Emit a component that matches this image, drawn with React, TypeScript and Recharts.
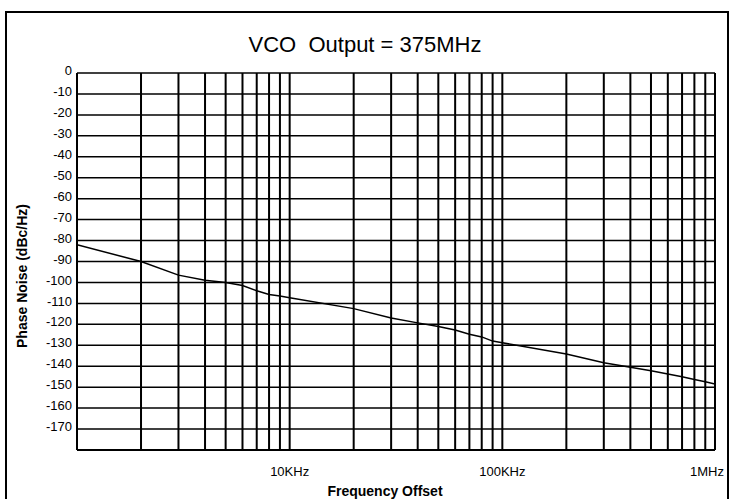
import { LineChart, Line, XAxis, YAxis, CartesianGrid } from 'recharts'

const FONT = "Arial, 'Liberation Sans', sans-serif"

// offset frequency (Hz) - also the log grid lines
const FREQS = [
  1000, 2000, 3000, 4000, 5000, 6000, 7000, 8000, 9000,
  10000, 20000, 30000, 40000, 50000, 60000, 70000, 80000, 90000,
  100000, 200000, 300000, 400000, 500000, 600000, 700000, 800000, 900000,
  1000000,
]

// phase noise (dBc/Hz) read at each frequency above
const NOISE = [
  -82, -90, -96.5, -99, -100, -101.5, -104, -105.8, -106.5,
  -107.3, -112.5, -117, -119.3, -121, -122.7, -124.7, -126, -128,
  -128.8, -134.2, -138.3, -140.5, -142.2, -143.7, -145, -146.3, -147.4,
  -148.5,
]

const X_LABELS: Record<number, string> = {
  10000: '10KHz',
  100000: '100KHz',
  1000000: '1MHz',
}

const Y_TICKS = [
  0, -10, -20, -30, -40, -50, -60, -70, -80, -90,
  -100, -110, -120, -130, -140, -150, -160, -170, -180,
]

const data = FREQS.map((f, i) => ({ f, noise: NOISE[i] }))

function XTick({ x, y, payload }: any) {
  const label = X_LABELS[payload.value]
  if (!label) return <g />
  // last label is pulled in so it stays inside the frame
  const shift = payload.value === 1000000 ? -8 : 0
  return (
    <text x={x + shift} y={y} dy='0.71em' textAnchor='middle' fontSize={13} fill='#000' fontFamily={FONT}>
      {label}
    </text>
  )
}

function YTick({ x, y, payload }: any) {
  if (payload.value === -180) return <g />
  return (
    <text x={x} y={y - 2.5} dy='0.355em' textAnchor='end' fontSize={13} fill='#000' fontFamily={FONT}>
      {payload.value}
    </text>
  )
}

export default function App() {
  return (
    <div
      style={{
        position: 'relative',
        width: 730,
        height: 499,
        overflow: 'hidden',
        background: '#fff',
        fontFamily: FONT,
        color: '#000',
      }}
    >
      <style>{'body{margin:0}'}</style>
      <div
        style={{
          position: 'absolute',
          left: 5,
          top: 11,
          width: 724,
          height: 600,
          border: '2px solid #000',
          boxSizing: 'border-box',
        }}
      />
      <div
        style={{
          position: 'absolute',
          left: 0,
          top: 32,
          width: 730,
          textAlign: 'center',
          fontSize: 22,
          lineHeight: '26px',
          whiteSpace: 'pre',
        }}
      >
        {'VCO  Output = 375MHz'}
      </div>
      <LineChart
        width={730}
        height={499}
        data={data}
        margin={{ top: 73, right: 15, left: 0, bottom: 0 }}
        style={{ position: 'absolute', left: 0, top: 0 }}
      >
        <CartesianGrid vertical={false} stroke='#000' strokeWidth={1.5} />
        <CartesianGrid horizontal={false} stroke='#000' strokeWidth={2} />
        <XAxis
          dataKey='f'
          type='number'
          scale='log'
          domain={[1000, 1000000]}
          ticks={FREQS}
          interval={0}
          allowDataOverflow
          height={49}
          tickLine={false}
          tickSize={0}
          tickMargin={17}
          axisLine={{ stroke: '#000', strokeWidth: 2 }}
          tick={<XTick />}
        />
        <YAxis
          type='number'
          domain={[-180, 0]}
          ticks={Y_TICKS}
          interval={0}
          width={77}
          tickLine={false}
          tickSize={5}
          tickMargin={0}
          axisLine={{ stroke: '#000', strokeWidth: 2 }}
          tick={<YTick />}
        />
        <Line
          type='linear'
          dataKey='noise'
          stroke='#000'
          strokeWidth={1.5}
          dot={false}
          isAnimationActive={false}
        />
      </LineChart>
      <div
        style={{
          position: 'absolute',
          left: 285,
          top: 483,
          width: 200,
          textAlign: 'center',
          fontSize: 14,
          fontWeight: 'bold',
          lineHeight: '16px',
        }}
      >
        Frequency Offset
      </div>
      <div
        style={{
          position: 'absolute',
          left: -78,
          top: 268,
          width: 200,
          height: 16,
          textAlign: 'center',
          fontSize: 14,
          fontWeight: 'bold',
          lineHeight: '16px',
          transform: 'rotate(-90deg)',
        }}
      >
        Phase Noise (dBc/Hz)
      </div>
    </div>
  )
}
